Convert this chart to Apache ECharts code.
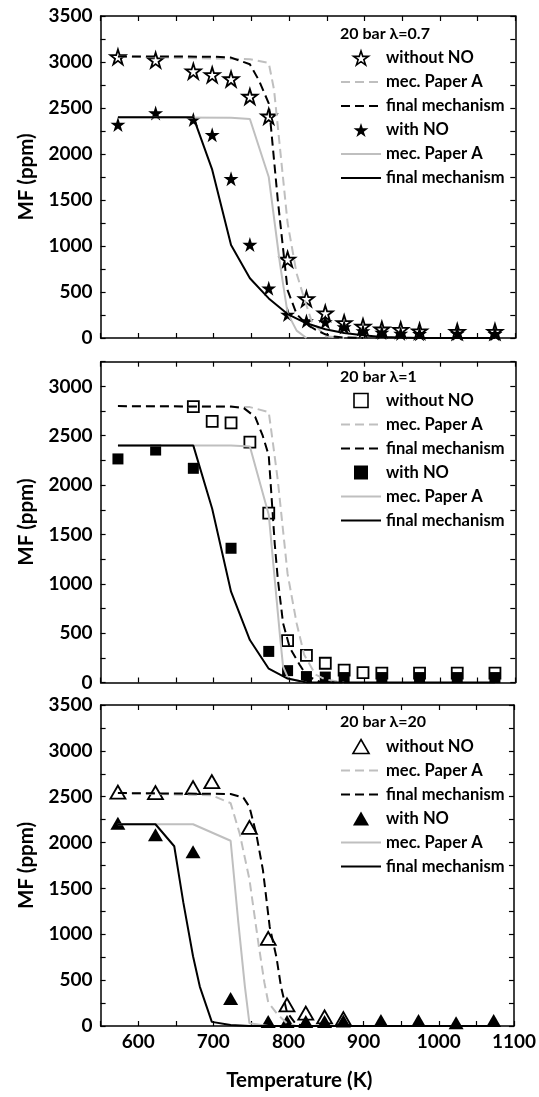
<!DOCTYPE html>
<html><head><meta charset="utf-8">
<script src="https://cdn.jsdelivr.net/npm/echarts@6/dist/echarts.min.js"></script>
<style>html,body{margin:0;padding:0;background:#fff}#c{width:539px;height:1097px}</style>
</head><body><div id="c"></div><script>
// ---------------- DATA ----------------
const panelTitles = ['20 bar \u03bb=0.7', '20 bar \u03bb=1', '20 bar \u03bb=20'];
const legendLabels = ['without NO', 'mec. Paper A', 'final mechanism', 'with NO', 'mec. Paper A', 'final mechanism'];
const xTickLabels = [600, 700, 800, 900, 1000, 1100];

// Panel 1 (lambda = 0.7)
const p1_T_noNO = [573,623,673,698,723,748,773,798,823,848,873,898,923,948,973,1023,1073];
const p1_noNO   = [3055,3020,2900,2860,2815,2625,2410,855,425,270,165,125,95,90,75,70,70];
const p1_T_NO   = [573,623,673,698,723,748,773,798,823,848,873,898,923,948,973,1023,1073];
const p1_NO     = [2320,2445,2375,2210,1730,1015,540,255,185,175,120,75,60,50,45,50,45];
const p1_mecA_noNO = [[573,3060],[748,3030],[773,2990],[780,2700],[785,2300],[798,1250],[810,700],[820,430],[830,180],[848,20],[873,0]];
const p1_fin_noNO  = [[573,3060],[698,3058],[723,3048],[748,2975],[760,2800],[773,2550],[785,1500],[798,520],[810,260],[823,150],[835,90],[848,40],[860,15],[873,5],[898,0]];
const p1_mecA_NO   = [[573,2400],[723,2395],[748,2380],[773,1750],[788,800],[798,270],[810,80],[823,0]];
const p1_fin_NO    = [[573,2400],[673,2400],[698,1830],[723,1010],[748,650],[773,430],[798,260],[823,160],[848,95],[873,55],[898,30],[923,12],[948,5],[973,0],[1073,0]];

// Panel 2 (lambda = 1)
const p2_T_noNO = [673,698,723,748,773,798,823,848,873,898,923,973,1023,1073];
const p2_noNO   = [2795,2645,2630,2435,1715,425,275,195,125,100,95,95,95,95];
const p2_T_NO   = [573,623,673,723,773,798,823,848,873,923,973,1023,1073];
const p2_NO     = [2265,2355,2170,1360,315,120,60,55,50,50,50,50,50];
const p2_mecA_noNO = [[573,2800],[748,2790],[773,2740],[779,2400],[785,2050],[798,1100],[810,600],[820,280],[835,80],[848,30],[873,0]];
const p2_fin_noNO  = [[573,2800],[723,2795],[740,2780],[755,2690],[765,2500],[773,2300],[777,1850],[781,1400],[785,1050],[792,600],[801,350],[814,180],[823,70],[840,10],[860,0]];
const p2_mecA_NO   = [[573,2400],[723,2400],[748,2390],[773,1700],[788,465],[792,160],[799,40],[823,0]];
const p2_fin_NO    = [[573,2400],[673,2400],[698,1760],[723,920],[748,430],[773,140],[798,40],[823,0],[1073,0]];

// Panel 3 (lambda = 20)
const p3_T_noNO = [573,623,673,698,748,773,798,823,848,873];
const p3_noNO   = [2550,2545,2600,2665,2165,955,230,140,100,80];
const p3_T_NO   = [573,623,673,723,773,798,823,848,873,923,973,1023,1073];
const p3_NO     = [2210,2085,1900,300,50,50,50,50,55,60,60,35,60];
const p3_mecA_noNO = [[573,2540],[698,2515],[723,2430],[735,2100],[748,1600],[760,900],[768,470],[773,260],[785,130],[798,30],[810,0]];
const p3_fin_noNO  = [[573,2540],[723,2530],[740,2490],[748,2390],[757,2100],[766,1700],[775,1080],[784,750],[790,430],[798,150],[810,20],[823,0]];
const p3_mecA_NO   = [[573,2200],[673,2200],[723,2020],[733,1150],[742,430],[748,30],[773,0]];
const p3_fin_NO    = [[573,2200],[623,2200],[648,1960],[660,1350],[673,760],[682,430],[698,45],[723,10],[748,0],[1073,0]];

// ---------------- LAYOUT / STYLE ----------------
const FONT = 'Lato';
const STAR = 'path://M50,2 L61.2,36.2 L97.6,36.2 L68.2,57.4 L79.4,91.6 L50,70.4 L20.6,91.6 L31.8,57.4 L2.4,36.2 L38.8,36.2 Z';
const SQUARE = 'path://M0,0 L100,0 L100,100 L0,100 Z';
const TRI = 'path://M50,0 L100,87 L0,87 Z';
const GRAY = '#bfbfbf';
const geom = [
  {top: 16, height: 322, ymax: 3500, legendTop: 49.5, titleTop: 26},
  {top: 361.7, height: 320.8, ymax: 3250, legendTop: 392, titleTop: 369},
  {top: 705, height: 321, ymax: 3500, legendTop: 738, titleTop: 714}
];
const symbols = [
  {sym: STAR, size: 15},
  {sym: SQUARE, size: 11},
  {sym: TRI, size: [15, 13]}
];
const panelData = [
  {tn: p1_T_noNO, vn: p1_noNO, tw: p1_T_NO, vw: p1_NO, mA0: p1_mecA_noNO, f0: p1_fin_noNO, mA1: p1_mecA_NO, f1: p1_fin_NO},
  {tn: p2_T_noNO, vn: p2_noNO, tw: p2_T_NO, vw: p2_NO, mA0: p2_mecA_noNO, f0: p2_fin_noNO, mA1: p2_mecA_NO, f1: p2_fin_NO},
  {tn: p3_T_noNO, vn: p3_noNO, tw: p3_T_NO, vw: p3_NO, mA0: p3_mecA_noNO, f0: p3_fin_noNO, mA1: p3_mecA_NO, f1: p3_fin_NO}
];
const zip = (a, b) => a.map((t, i) => [t, b[i]]);
const axisLineStyle = {color: '#000', width: 1.5};
const tickStyle = {inside: true, length: 5, lineStyle: {color: '#000', width: 1.2}};
const labelFont = {fontFamily: FONT, fontWeight: 'bold', fontSize: 19, color: '#000'};
const nameFont = {fontFamily: FONT, fontWeight: 'bold', fontSize: 20.5, color: '#000'};

const grid = [], xAxis = [], yAxis = [], series = [], legend = [], title = [];
geom.forEach((g, p) => {
  grid.push({left: 100.6, right: 23.7, top: g.top, height: g.height});
});
geom.forEach((g, p) => {
  xAxis.push({
    gridIndex: p, type: 'value', min: 550, max: 1100, interval: 50, position: 'bottom',
    axisLine: {show: true, onZero: false, lineStyle: axisLineStyle},
    axisTick: tickStyle, splitLine: {show: false},
    axisLabel: Object.assign({show: p === 2, margin: 6,
      formatter: v => xTickLabels.indexOf(v) >= 0 ? String(v) : ''}, labelFont),
    name: p === 2 ? 'Temperature (K)' : '', nameLocation: 'middle', nameGap: 44,
    nameTextStyle: Object.assign({padding: [0, 16, 0, 0]}, nameFont)
  });
});
geom.forEach((g, p) => {
  xAxis.push({
    gridIndex: p, type: 'value', min: 550, max: 1100, interval: 50, position: 'top',
    axisLine: {show: true, onZero: false, lineStyle: axisLineStyle},
    axisTick: tickStyle, splitLine: {show: false}, axisLabel: {show: false}
  });
});
geom.forEach((g, p) => {
  yAxis.push({
    gridIndex: p, type: 'value', min: 0, max: g.ymax, interval: 250, position: 'left',
    axisLine: {show: true, onZero: false, lineStyle: axisLineStyle},
    axisTick: Object.assign({show: true}, tickStyle), splitLine: {show: false},
    axisLabel: Object.assign({margin: 8, formatter: v => v % 500 === 0 ? String(v) : ''}, labelFont),
    name: 'MF (ppm)', nameLocation: 'middle', nameGap: 64, nameRotate: 90,
    nameTextStyle: nameFont
  });
});
geom.forEach((g, p) => {
  yAxis.push({
    gridIndex: p, type: 'value', min: 0, max: g.ymax, interval: 250, position: 'right',
    axisLine: {show: true, onZero: false, lineStyle: axisLineStyle},
    axisTick: Object.assign({show: true}, tickStyle), splitLine: {show: false}, axisLabel: {show: false}
  });
});

panelData.forEach((d, p) => {
  const sfx = '#' + p;
  const names = legendLabels.map((l, i) => l + sfx + (i >= 4 ? 'b' : ''));
  const s = symbols[p];
  const hollowStyle = {color: '#fff', borderColor: '#000', borderWidth: 1.8, opacity: 1};
  const fillStyle = {color: '#000', borderWidth: 0, opacity: 1};
  series.push({type: 'scatter', name: names[0], xAxisIndex: p, yAxisIndex: p, data: zip(d.tn, d.vn),
    symbol: s.sym, symbolSize: s.size, itemStyle: hollowStyle, z: 2, silent: true});
  series.push({type: 'scatter', name: names[3], xAxisIndex: p, yAxisIndex: p, data: zip(d.tw, d.vw),
    symbol: s.sym, symbolSize: s.size, itemStyle: fillStyle, z: 3, silent: true});
  const mkLine = (name, data, color, dashed) => ({
    type: 'line', name, xAxisIndex: p, yAxisIndex: p, data, symbol: 'none', showSymbol: false,
    lineStyle: {color, width: 2, type: dashed ? [9, 5] : 'solid'}, itemStyle: {color}, z: 4, silent: true
  });
  series.push(mkLine(names[1], d.mA0, GRAY, true));
  series.push(mkLine(names[2], d.f0, '#000', true));
  series.push(mkLine(names[4], d.mA1, GRAY, false));
  series.push(mkLine(names[5], d.f1, '#000', false));

  const noSym = {color: 'rgba(0,0,0,0)', borderWidth: 0, opacity: 0};
  legend.push({
    left: 340, top: geom[p].legendTop, orient: 'vertical', padding: 0,
    itemWidth: 40, itemHeight: 14, itemGap: 7, selectedMode: false, symbolKeepAspect: true,
    formatter: n => n.split('#')[0],
    textStyle: {fontFamily: FONT, fontWeight: 'bold', fontSize: 16.5, color: '#000'},
    data: [
      {name: names[0], icon: s.sym, itemStyle: {color: '#fff', borderColor: '#000', borderWidth: 1.6, opacity: 1}},
      {name: names[1], itemStyle: noSym},
      {name: names[2], itemStyle: noSym},
      {name: names[3], icon: s.sym, itemStyle: {color: '#000', borderWidth: 0, opacity: 1}},
      {name: names[4], itemStyle: noSym},
      {name: names[5], itemStyle: noSym}
    ]
  });
  title.push({text: panelTitles[p], left: 340, top: geom[p].titleTop, padding: 0,
    textStyle: {fontFamily: FONT, fontWeight: 'bold', fontSize: 16, color: '#000'}});
});

const chart = echarts.init(document.getElementById('c'), null, {renderer: 'canvas'});
chart.setOption({animation: false, backgroundColor: '#fff', title, legend, grid, xAxis, yAxis, series});
</script></body></html>
